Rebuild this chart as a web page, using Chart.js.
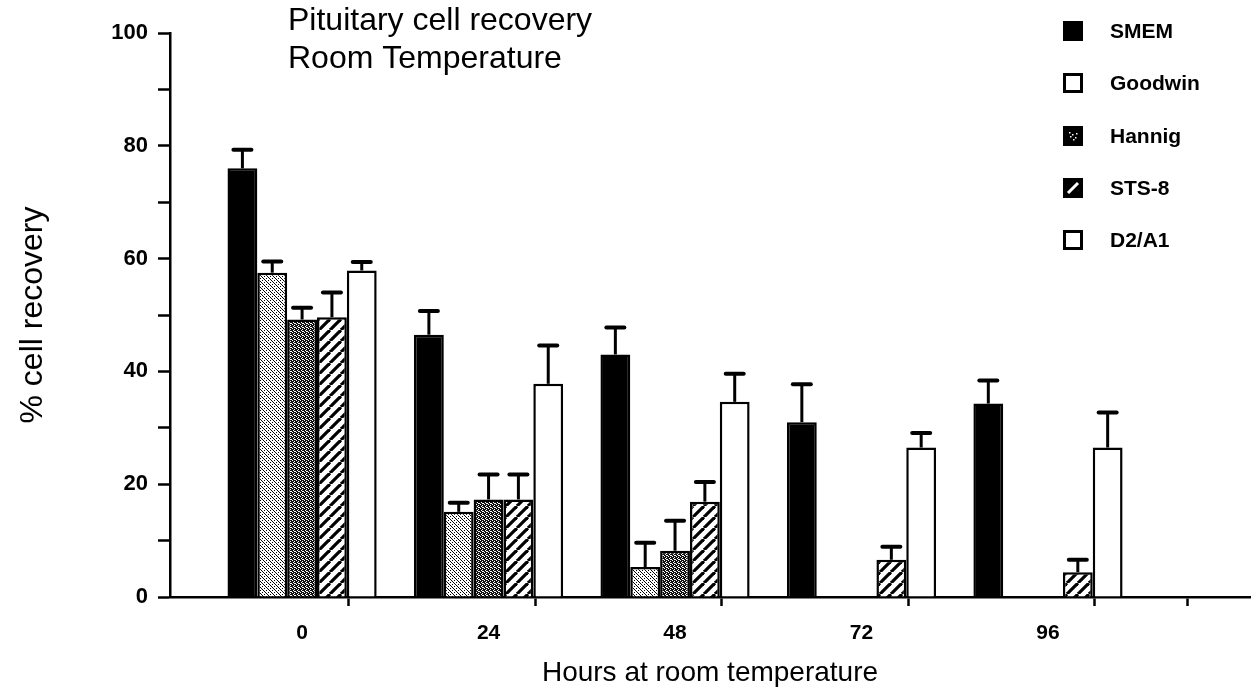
<!DOCTYPE html>
<html>
<head>
<meta charset="utf-8">
<script src="https://cdn.jsdelivr.net/npm/chart.js@4/dist/chart.umd.min.js"></script>
<style>
  html, body { margin: 0; padding: 0; background: #fff; }
  #wrap { width: 1260px; height: 696px; position: relative; }
</style>
</head>
<body>
<div id="wrap"><canvas id="c" width="1260" height="696"></canvas></div>
<script>
// ---------------- data ----------------
const hours = [0, 24, 48, 72, 96];
const seriesNames = ['SMEM', 'Goodwin', 'Hannig', 'STS-8', 'D2/A1'];
const smem      = [76, 46.5, 43, 31, 34.3];
const goodwin   = [57.5, 15.1, 5.3, null, null];
const hannig    = [49.2, 17.3, 8.2, null, null];
const sts8      = [49.6, 17.3, 16.9, 6.6, 4.4];
const d2a1      = [57.9, 37.8, 34.6, 26.5, 26.5];
const smemErr    = [3.3, 4.2, 4.8, 6.7, 4.1];
const goodwinErr = [2.0, 1.6, 4.3, null, null];
const hannigErr  = [2.1, 4.4, 5.3, null, null];
const sts8Err    = [4.4, 4.4, 3.5, 2.3, 2.2];
const d2a1Err    = [1.5, 6.8, 5.0, 2.6, 6.2];
const yTicks = [0, 20, 40, 60, 80, 100];
const chartTitle = ['Pituitary cell recovery', 'Room Temperature'];
const xTitle = 'Hours at room temperature';
const yTitle = '% cell recovery';

// ---------------- patterns ----------------
function makePattern(size, draw) {
  const c = document.createElement('canvas');
  c.width = size; c.height = size;
  const g = c.getContext('2d');
  draw(g, size);
  return g.createPattern(c, 'repeat');
}
const ctx = document.getElementById('c').getContext('2d');
const goodwinPat = makePattern(6, (g, s) => {
  g.fillStyle = '#fff'; g.fillRect(0, 0, s, s);
  g.fillStyle = '#000';
  for (let i = 0; i < s; i++) {
    if (i % 2 === 0) g.fillRect(i, i, 1, 1);
    g.fillRect((i + 3) % s, i, 1, 1);
  }
});
const hannigPat = makePattern(4, (g, s) => {
  g.fillStyle = '#111'; g.fillRect(0, 0, s, s);
  g.fillStyle = '#fff';
  g.fillRect(0, 0, 1, 1); g.fillRect(2, 1, 1, 1);
  g.fillRect(1, 2, 1, 1); g.fillRect(3, 3, 1, 1);
  g.fillRect(2, 3, 1, 1);
});
const stsPat = makePattern(11, (g, s) => {
  g.fillStyle = '#fff'; g.fillRect(0, 0, s, s);
  g.strokeStyle = '#000'; g.lineWidth = 3.2;
  for (const o of [-s, 0, s]) {
    g.beginPath(); g.moveTo(o, s); g.lineTo(o + s, 0); g.stroke();
  }
});

const seriesValues = [smem, goodwin, hannig, sts8, d2a1];
const seriesErrors = [smemErr, goodwinErr, hannigErr, sts8Err, d2a1Err];
const fills = ['#000', goodwinPat, hannigPat, stsPat, '#fff'];

const datasets = seriesNames.map((name, k) => ({
  label: name,
  data: hours.map((h, i) => ({ x: h, y: seriesValues[k][i] })),
  errors: seriesErrors[k],
  backgroundColor: fills[k],
  borderColor: '#000',
  borderWidth: 2.5,
  borderSkipped: 'start',
  barPercentage: 1.0,
  categoryPercentage: 1.6
}));

// ---------------- plugins ----------------
const errorBars = {
  id: 'errorBars',
  afterDatasetsDraw(chart) {
    const c = chart.ctx, ys = chart.scales.y;
    c.save();
    c.strokeStyle = '#000';
    chart.data.datasets.forEach((ds, k) => {
      const meta = chart.getDatasetMeta(k);
      meta.data.forEach((el, i) => {
        const v = ds.data[i].y, e = ds.errors[i];
        if (v == null || e == null) return;
        const yTop = ys.getPixelForValue(v + e);
        c.lineWidth = 3;
        c.beginPath(); c.moveTo(el.x, el.y); c.lineTo(el.x, yTop); c.stroke();
        c.lineWidth = 4; c.lineCap = 'round';
        c.beginPath(); c.moveTo(el.x - 9, yTop); c.lineTo(el.x + 9, yTop); c.stroke();
        c.lineCap = 'butt';
      });
    });
    c.restore();
  }
};

const decorations = {
  id: 'decorations',
  afterDraw(chart) {
    const c = chart.ctx;
    c.save();
    c.fillStyle = '#000';
    c.textBaseline = 'middle';
    c.textAlign = 'left';
    c.font = '32px "Liberation Sans", Arial, sans-serif';
    c.fillText(chartTitle[0], 288, 21);
    c.fillText(chartTitle[1], 288, 59);
    // legend
    const rows = [31, 83, 136, 188, 240];
    c.font = 'bold 21px "Liberation Sans", Arial, sans-serif';
    chart.data.datasets.forEach((ds, k) => {
      const y = rows[k], x = 1063, s = 20;
      if (k === 0) { c.fillStyle = '#000'; c.fillRect(x, y - s / 2, s, s); }
      else if (k === 1 || k === 4) {
        c.fillStyle = '#fff'; c.fillRect(x, y - s / 2, s, s);
        c.strokeStyle = '#000'; c.lineWidth = 3; c.strokeRect(x + 1.5, y - s / 2 + 1.5, s - 3, s - 3);
      } else if (k === 2) {
        c.fillStyle = '#000'; c.fillRect(x, y - s / 2, s, s);
        c.fillStyle = '#fff';
        [[6,6],[9,8],[12,11],[7,10],[10,13],[13,7]].forEach(p => c.fillRect(x + p[0], y - s / 2 + p[1], 1.5, 1.5));
      } else if (k === 3) {
        c.fillStyle = '#000'; c.fillRect(x, y - s / 2, s, s);
        c.strokeStyle = '#fff'; c.lineWidth = 3;
        c.beginPath(); c.moveTo(x + 5, y + 5); c.lineTo(x + 15, y - 5); c.stroke();
      }
      c.fillStyle = '#000';
      c.fillText(ds.label, 1110, y + 1);
    });
    c.restore();
  }
};

// ---------------- chart ----------------
new Chart(ctx, {
  type: 'bar',
  data: { datasets },
  options: {
    responsive: false,
    animation: false,
    devicePixelRatio: 1,
    layout: { padding: { top: 33, right: 10, left: 0, bottom: 0 } },
    plugins: { legend: { display: false }, tooltip: { enabled: false } },
    scales: {
      x: {
        type: 'linear',
        min: -17, max: 122,
        offset: false,
        afterFit(s) { s.height = 99; },
        afterBuildTicks(s) {
          const t = [];
          hours.forEach(h => { t.push({ value: h }); t.push({ value: h + 12 }); });
          s.ticks = t;
        },
        grid: {
          drawOnChartArea: false,
          tickLength: 9,
          tickWidth: 2.5,
          tickColor: (c) => (c.tick && hours.includes(c.tick.value)) ? 'rgba(0,0,0,0)' : '#000'
        },
        border: { display: true, color: '#000', width: 2.5 },
        ticks: {
          autoSkip: false, maxRotation: 0,
          padding: 15,
          color: '#000',
          font: { family: '"Liberation Sans", Arial, sans-serif', size: 21, weight: 'bold' },
          callback: (v) => hours.includes(v) ? String(v) : ''
        },
        title: {
          display: true, text: xTitle, color: '#000',
          font: { family: '"Liberation Sans", Arial, sans-serif', size: 28 },
          padding: { top: 0, bottom: 6 }
        }
      },
      y: {
        min: 0, max: 100,
        afterFit(s) { s.width = 170; },
        afterBuildTicks(s) {
          const t = [];
          for (let v = 0; v <= 100; v += 10) t.push({ value: v });
          s.ticks = t;
        },
        grid: { drawOnChartArea: false, tickLength: 12, tickWidth: 2.5, tickColor: '#000' },
        border: { display: true, color: '#000', width: 2.5 },
        ticks: {
          autoSkip: false,
          padding: 10,
          color: '#000',
          font: { family: '"Liberation Sans", Arial, sans-serif', size: 22, weight: 'bold' },
          callback: (v) => yTicks.includes(v) ? String(v) : ''
        },
        title: {
          display: true, text: yTitle, color: '#000',
          font: { family: '"Liberation Sans", Arial, sans-serif', size: 32 },
          padding: { top: 14, bottom: 0 }
        }
      }
    }
  },
  plugins: [errorBars, decorations]
});
</script>
</body>
</html>
